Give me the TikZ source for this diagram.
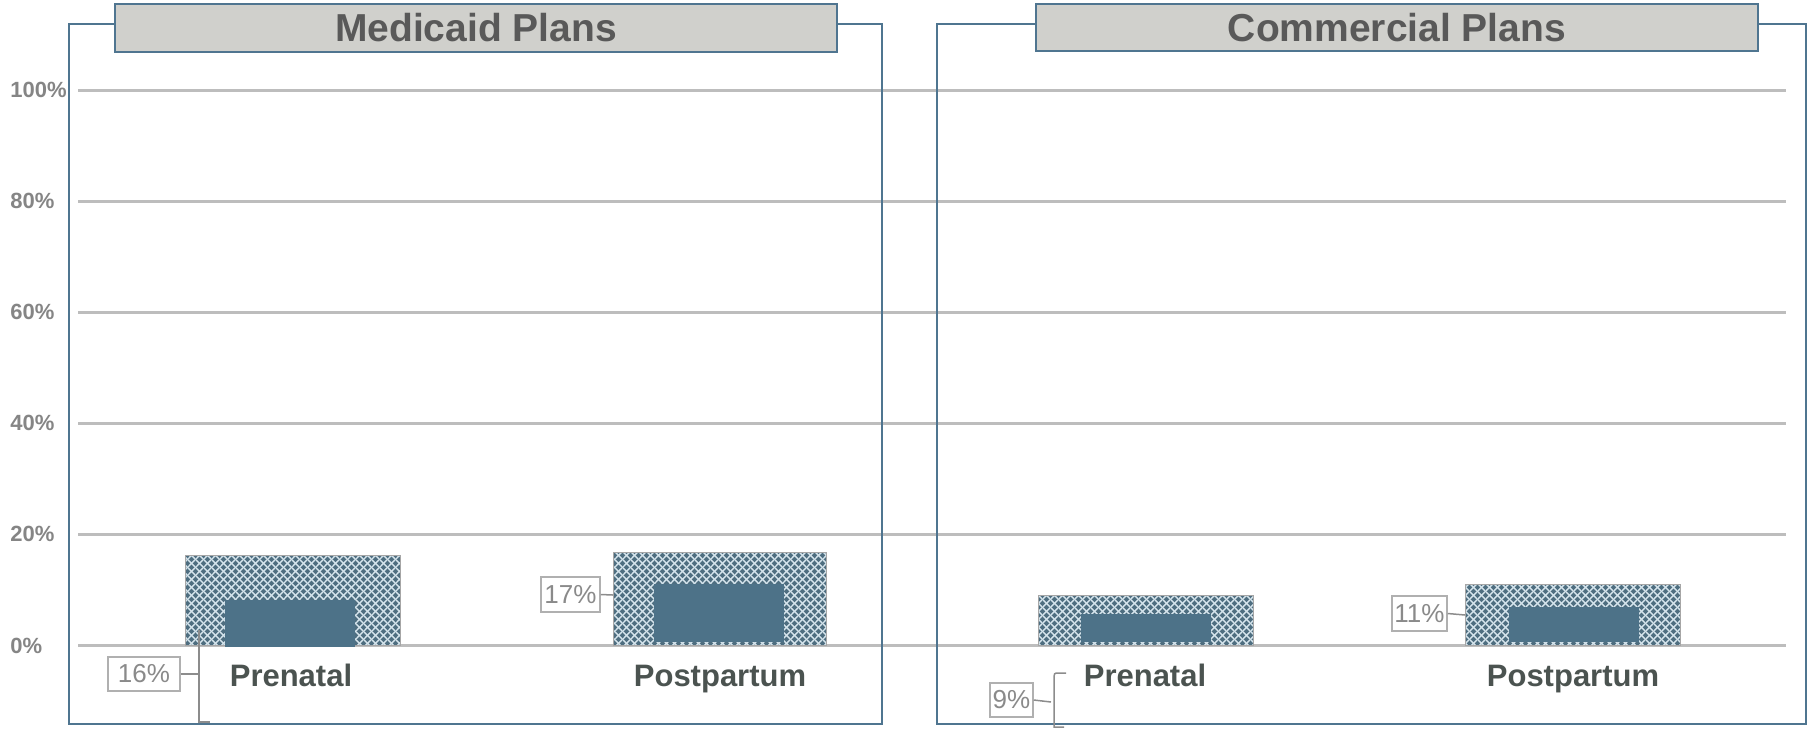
\documentclass[tikz,border=0pt]{standalone}
\usepackage{fontspec}
\setmainfont{Liberation Sans}
\usetikzlibrary{patterns.meta}
\definecolor{framecol}{HTML}{4F7590}
\definecolor{titlefill}{HTML}{D0D0CC}
\definecolor{titletext}{HTML}{595959}
\definecolor{gridcol}{HTML}{BDBDBD}
\definecolor{axistext}{HTML}{858585}
\definecolor{cattext}{HTML}{4B5350}
\definecolor{bardark}{HTML}{4E6E80}
\definecolor{barlight}{HTML}{D5E4EC}
\definecolor{barsolid}{HTML}{4D7288}
\definecolor{lblborder}{HTML}{B0B0B0}
\definecolor{lbltext}{HTML}{8A8A8A}
\definecolor{brkcol}{HTML}{8C8C8C}

\tikzdeclarepattern{
  name=xhatch,
  type=uncolored,
  bottom left={(0pt,0pt)},
  top right={(3pt,3pt)},
  tile size={(3pt,3pt)},
  code={
    \draw[line width=0.6pt] (-0.5pt,-0.5pt) -- (3.5pt,3.5pt);
    \draw[line width=0.6pt] (-0.5pt,3.5pt) -- (3.5pt,-0.5pt);
  }
}

\newcommand\drawbar[8]{%
  \fill[bardark] (#1,#2) rectangle (#3,645);
  \fill[pattern=xhatch, pattern color=barlight] (#1,#2) rectangle (#3,645);
  \draw[gray!70, line width=0.4pt] (#1,#2) rectangle (#3,645);
  \fill[barsolid] (#4,#5) rectangle (#6,#7);
}

\tikzset{
  framebox/.style={draw=framecol, line width=0.8pt},
  titlebox/.style={draw=framecol, line width=0.9pt, fill=titlefill, text=titletext,
    font=\fontsize{15.6pt}{18pt}\selectfont\bfseries, inner sep=0pt},
  gridline/.style={draw=gridcol, line width=1.2pt},
  ylab/.style={anchor=west, text=axistext, font=\fontsize{8.8pt}{10pt}\selectfont\bfseries, inner sep=0pt},
  catlab/.style={anchor=base, text=cattext, font=\fontsize{12.4pt}{14pt}\selectfont\bfseries, inner sep=0pt},
  vlab/.style={draw=lblborder, line width=0.6pt, fill=white, text=lbltext,
    font=\fontsize{10.4pt}{12pt}\selectfont, inner sep=0pt, minimum height=13.6pt},
  brk/.style={draw=brkcol, line width=0.6pt}
}

\begin{document}
\begin{tikzpicture}[x=0.4pt, y=-0.4pt]
\useasboundingbox (0,0) rectangle (1808,729);

% grid lines
\foreach \yy in {90,201,312,423,534,645} {
  \draw[gridline] (78,\yy) -- (1786,\yy);
}

% y axis labels
\node[ylab] (y100) at (10,90) {100\%};
\node[ylab] (y80) at (10,201) {80\%};
\node[ylab] (y60) at (10,312) {60\%};
\node[ylab] (y40) at (10,423) {40\%};
\node[ylab] (y20) at (10,534) {20\%};
\node[ylab] (y0) at (10,646) {0\%};

% panel frames
\draw[framebox] (69,24) rectangle (882,724);
\draw[framebox] (937,24) rectangle (1806,724);

% titles
\node[titlebox, minimum width=288.8pt, minimum height=19.2pt] (tmed) at (476,28) {Medicaid Plans};
\node[titlebox, minimum width=288.8pt, minimum height=18.8pt] (tcom) at (1397,27.5) {Commercial Plans};

% bars
\drawbar{185}{555}{400}{225}{600}{355}{647}{}
\drawbar{613}{552}{826}{654}{584}{784}{642}{}
\drawbar{1038}{595}{1253}{1081}{614}{1211}{642}{}
\drawbar{1465}{584}{1680}{1509}{607}{1639}{642}{}

% category labels
\node[catlab] (c1) at (291,686) {Prenatal};
\node[catlab] (c2) at (720,686) {Postpartum};
\node[catlab] (c3) at (1145,686) {Prenatal};
\node[catlab] (c4) at (1573,686) {Postpartum};

% value labels
\node[vlab, minimum width=28.8pt] (v16) at (144,674) {16\%};
\node[vlab, minimum width=23.6pt, minimum height=14pt] (v17) at (570.5,594.5) {17\%};
\node[vlab, minimum width=17.2pt] (v9) at (1011.5,700) {9\%};
\node[vlab, minimum width=22pt, minimum height=14pt] (v11) at (1419.5,613.5) {11\%};

% brackets
\coordinate (b16) at (199,674);
\draw[brk] (v16.east) -- (b16);
\draw[brk] (199,630) -- (199,722) -- (210,722);

\coordinate (b17) at (613,595);
\draw[brk] (v17.east) -- (b17);

\coordinate (b9) at (1051,702);
\draw[brk] (v9.east) -- (b9);
\draw[brk] (1066,673) -- (1059,673) .. controls (1054,673) .. (1054,680) -- (1054,727) -- (1064,727);

\coordinate (b11) at (1465,615);
\draw[brk] (v11.east) -- (b11);

\end{tikzpicture}
\end{document}
